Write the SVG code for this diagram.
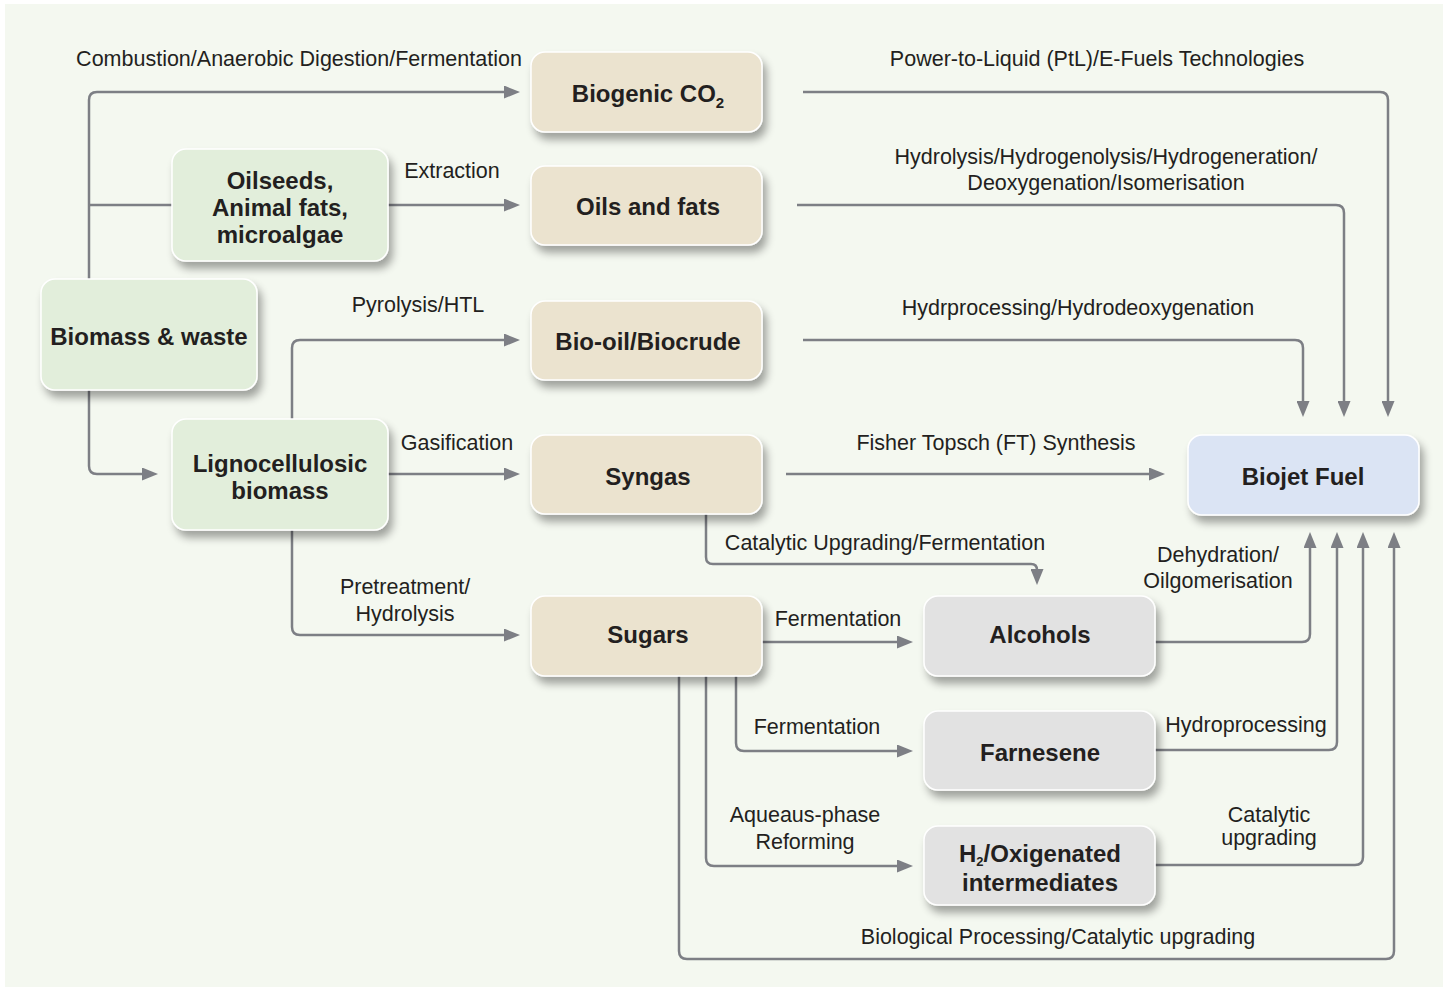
<svg xmlns="http://www.w3.org/2000/svg" width="1450" height="989" viewBox="0 0 1450 989">
<style>
.n{stroke:#ffffff;stroke-width:1.5;filter:url(#sh)}
.src{fill:#e2eedb}
.mid{fill:#ebe3cf}
.gr{fill:#e2e2e2}
.bj{fill:#dbe4f4}
.t{font-family:"Liberation Sans",Arial,sans-serif;font-weight:bold;font-size:24px;fill:#231f20;text-anchor:middle}
.l{font-family:"Liberation Sans",Arial,sans-serif;font-size:21.5px;fill:#231f20;text-anchor:middle}
.c{fill:none;stroke:#7d7f85;stroke-width:2.5;stroke-linejoin:round}
.a{fill:none;stroke:#7d7f85;stroke-width:2.5;marker-end:url(#ar)}
</style>
<defs>
<filter id="sh" x="-20%" y="-20%" width="150%" height="160%">
<feGaussianBlur in="SourceAlpha" stdDeviation="4"/>
<feOffset dx="4" dy="7" result="b"/>
<feComponentTransfer><feFuncA type="linear" slope="0.35"/></feComponentTransfer>
<feMerge><feMergeNode/><feMergeNode in="SourceGraphic"/></feMerge>
</filter>
<marker id="ar" viewBox="0 0 16 13" refX="1" refY="6.5" markerWidth="16" markerHeight="13" markerUnits="userSpaceOnUse" orient="auto">
<path d="M0,0 L16,6.5 L0,13 Z" fill="#7d7f85"/>
</marker>
</defs>
<rect x="0" y="0" width="1450" height="989" fill="#ffffff"/>
<rect x="5" y="4" width="1438" height="983" fill="#f4f8f0"/>
<g id="connectors">
<path class="a" d="M89,279 V100 Q89,92 97,92 H505"/>
<path class="c" d="M89,205 H172"/>
<path class="a" d="M388,205 H505"/>
<path class="a" d="M89,390 V466 Q89,474 97,474 H143"/>
<path class="a" d="M292,419 V348 Q292,340 300,340 H505"/>
<path class="a" d="M388,474 H505"/>
<path class="a" d="M292,530 V627 Q292,635 300,635 H505"/>
<path class="a" d="M803,92 H1380 Q1388,92 1388,100 V402"/>
<path class="a" d="M797,205 H1336 Q1344,205 1344,213 V402"/>
<path class="a" d="M803,340 H1295 Q1303,340 1303,348 V402"/>
<path class="a" d="M786,474 H1150"/>
<path class="a" d="M706,514 V557 Q706,564 713,564 H1031 Q1037,564 1037,570"/>
<path class="a" d="M762,642 H898"/>
<path class="a" d="M736,676 V743 Q736,751 744,751 H898"/>
<path class="a" d="M706,676 V858 Q706,866 714,866 H898"/>
<path class="a" d="M679,676 V951 Q679,959 687,959 H1386 Q1394,959 1394,951 V547"/>
<path class="a" d="M1155,642 H1302 Q1310,642 1310,634 V547"/>
<path class="a" d="M1155,750 H1329 Q1337,750 1337,742 V547"/>
<path class="a" d="M1155,865 H1355 Q1363,865 1363,857 V547"/>
</g>
<g id="labels">
<text class="l" x="299" y="66">Combustion/Anaerobic Digestion/Fermentation</text>
<text class="l" x="452" y="178">Extraction</text>
<text class="l" x="418" y="312">Pyrolysis/HTL</text>
<text class="l" x="457" y="450">Gasification</text>
<text class="l" x="405" y="594">Pretreatment/</text>
<text class="l" x="405" y="621">Hydrolysis</text>
<text class="l" x="1097" y="66">Power-to-Liquid (PtL)/E-Fuels Technologies</text>
<text class="l" x="1106" y="164">Hydrolysis/Hydrogenolysis/Hydrogeneration/</text>
<text class="l" x="1106" y="190">Deoxygenation/Isomerisation</text>
<text class="l" x="1078" y="315">Hydrprocessing/Hydrodeoxygenation</text>
<text class="l" x="996" y="450">Fisher Topsch (FT) Synthesis</text>
<text class="l" x="885" y="550">Catalytic Upgrading/Fermentation</text>
<text class="l" x="1218" y="562">Dehydration/</text>
<text class="l" x="1218" y="588">Oilgomerisation</text>
<text class="l" x="838" y="626">Fermentation</text>
<text class="l" x="817" y="734">Fermentation</text>
<text class="l" x="1246" y="732">Hydroprocessing</text>
<text class="l" x="805" y="822">Aqueaus-phase</text>
<text class="l" x="805" y="849">Reforming</text>
<text class="l" x="1269" y="822">Catalytic</text>
<text class="l" x="1269" y="845">upgrading</text>
<text class="l" x="1058" y="944">Biological Processing/Catalytic upgrading</text>
</g>
<g id="biomass-waste"><rect class="n src" x="41" y="279" width="216" height="111" rx="14"/><text class="t" x="149" y="345">Biomass &amp; waste</text></g>
<g id="oilseeds"><rect class="n src" x="172" y="149" width="216" height="112" rx="14"/><text class="t" x="280" y="189">Oilseeds,</text><text class="t" x="280" y="216">Animal fats,</text><text class="t" x="280" y="243">microalgae</text></g>
<g id="lignocellulosic"><rect class="n src" x="172" y="419" width="216" height="111" rx="14"/><text class="t" x="280" y="472">Lignocellulosic</text><text class="t" x="280" y="499">biomass</text></g>
<g id="biogenic-co2"><rect class="n mid" x="531" y="52" width="231" height="80" rx="14"/><text class="t" x="648" y="102">Biogenic CO<tspan font-size="15" dy="6">2</tspan></text></g>
<g id="oils-fats"><rect class="n mid" x="531" y="166" width="231" height="79" rx="14"/><text class="t" x="648" y="215">Oils and fats</text></g>
<g id="bio-oil"><rect class="n mid" x="531" y="301" width="231" height="79" rx="14"/><text class="t" x="648" y="350">Bio-oil/Biocrude</text></g>
<g id="syngas"><rect class="n mid" x="531" y="435" width="231" height="79" rx="14"/><text class="t" x="648" y="485">Syngas</text></g>
<g id="sugars"><rect class="n mid" x="531" y="596" width="231" height="80" rx="14"/><text class="t" x="648" y="643">Sugars</text></g>
<g id="biojet-fuel"><rect class="n bj" x="1188" y="435" width="231" height="80" rx="14"/><text class="t" x="1303" y="485">Biojet Fuel</text></g>
<g id="alcohols"><rect class="n gr" x="924" y="596" width="231" height="80" rx="14"/><text class="t" x="1040" y="643">Alcohols</text></g>
<g id="farnesene"><rect class="n gr" x="924" y="711" width="231" height="79" rx="14"/><text class="t" x="1040" y="761">Farnesene</text></g>
<g id="h2-oxigenated"><rect class="n gr" x="924" y="826" width="231" height="79" rx="14"/><text class="t" x="1040" y="862">H<tspan font-size="13" dy="4">2</tspan><tspan dy="-4">/Oxigenated</tspan></text><text class="t" x="1040" y="891">intermediates</text></g>
</svg>
